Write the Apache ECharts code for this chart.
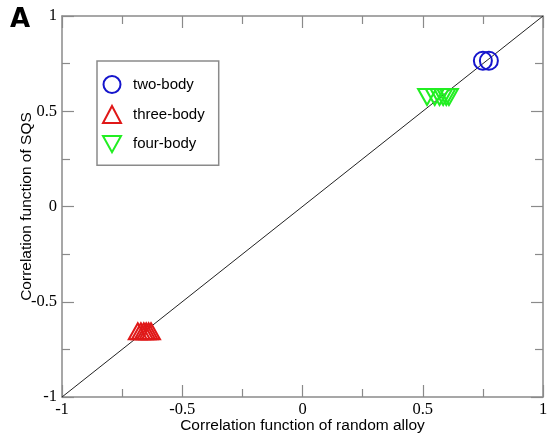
<!DOCTYPE html>
<html>
<head>
<meta charset="utf-8">
<script src="https://cdn.jsdelivr.net/npm/echarts@6/dist/echarts.min.js"></script>
<style>html,body{margin:0;padding:0;background:#fff}#c{width:548px;height:440px}</style>
</head>
<body>
<div id="c"></div>
<script>
const twoBodyX = [0.75, 0.775];
const twoBodyY = [0.765, 0.765];
const threeBodyX = [-0.685, -0.672, -0.66, -0.65, -0.64, -0.63];
const threeBodyY = [-0.655, -0.655, -0.655, -0.655, -0.655, -0.655];
const fourBodyX = [0.518, 0.55, 0.57, 0.585, 0.598, 0.609];
const fourBodyY = [0.575, 0.575, 0.575, 0.575, 0.575, 0.575];
const diagonal = [[-1, -1], [1, 1]];
const xAxisName = 'Correlation function of random alloy';
const yAxisName = 'Correlation function of SQS';
const seriesNames = ['two-body', 'three-body', 'four-body'];

const zip = (xs, ys) => xs.map((x, i) => [x, ys[i]]);
const axisColor = '#8a8a8a';
const tickFont = {fontFamily: 'Liberation Serif', fontSize: 16.5, color: '#000'};
const fmt = v => (v === 0 ? '0' : String(v));
const downTri = 'path://M0,0L10,0L5,9Z';

function mkAxis(extra) {
  return Object.assign({
    type: 'value', min: -1, max: 1, interval: 0.5,
    axisLine: {show: true, onZero: false, lineStyle: {color: axisColor, width: 1.5}},
    axisTick: {show: true, inside: true, length: 12, lineStyle: {color: axisColor, width: 1.2}},
    minorTick: {show: true, splitNumber: 2, length: 8, lineStyle: {color: axisColor, width: 1.2}},
    splitLine: {show: false},
    minorSplitLine: {show: false}
  }, extra);
}

const chart = echarts.init(document.getElementById('c'));
chart.setOption({
  animation: false,
  grid: {left: 62, right: 5, top: 16, bottom: 43, containLabel: false, outerBoundsMode: 'none'},
  graphic: [{
    type: 'text', left: 10, top: 7,
    style: {text: 'A', font: 'bold 26px "DejaVu Sans"', fill: '#000'}
  }],
  legend: {
    left: 97, top: 61, orient: 'vertical',
    data: [
      {name: seriesNames[0]},
      {name: seriesNames[1]},
      {name: seriesNames[2], icon: downTri}
    ],
    itemWidth: 18, itemHeight: 17, itemGap: 11,
    padding: [14, 14, 12, 5],
    borderColor: axisColor, borderWidth: 1.5,
    textStyle: {fontFamily: 'Liberation Sans', fontSize: 15, lineHeight: 17, color: '#000', padding: [0, 0, 0, 7]}
  },
  xAxis: [
    mkAxis({position: 'bottom', name: xAxisName, nameLocation: 'middle', nameGap: 21,
      nameMoveOverlap: false,
      nameTextStyle: {fontFamily: 'Liberation Sans', fontSize: 15.5, color: '#000', verticalAlign: 'top'},
      axisLabel: Object.assign({margin: 4, formatter: fmt}, tickFont)}),
    mkAxis({position: 'top', axisLabel: {show: false}})
  ],
  yAxis: [
    mkAxis({position: 'left', name: yAxisName, nameLocation: 'middle', nameGap: 27,
      nameMoveOverlap: false,
      nameTextStyle: {fontFamily: 'Liberation Sans', fontSize: 15.5, color: '#000', verticalAlign: 'bottom'},
      axisLabel: Object.assign({margin: 5, formatter: fmt}, tickFont)}),
    mkAxis({position: 'right', axisLabel: {show: false}})
  ],
  series: [
    {type: 'line', data: diagonal, symbol: 'none', silent: true,
      lineStyle: {color: '#222', width: 1}, z: 1},
    {name: seriesNames[0], type: 'scatter', data: zip(twoBodyX, twoBodyY),
      symbol: 'circle', symbolSize: 18,
      itemStyle: {color: 'transparent', borderColor: '#1515cc', borderWidth: 2, opacity: 1}, z: 3},
    {name: seriesNames[1], type: 'scatter', data: zip(threeBodyX, threeBodyY),
      symbol: 'triangle', symbolSize: [18, 16],
      itemStyle: {color: 'transparent', borderColor: '#e01818', borderWidth: 2, opacity: 1}, z: 3},
    {name: seriesNames[2], type: 'scatter', data: zip(fourBodyX, fourBodyY),
      symbol: 'triangle', symbolRotate: 180, symbolSize: [18, 16],
      itemStyle: {color: 'transparent', borderColor: '#22ee22', borderWidth: 2, opacity: 1}, z: 3}
  ]
});
</script>
</body>
</html>
